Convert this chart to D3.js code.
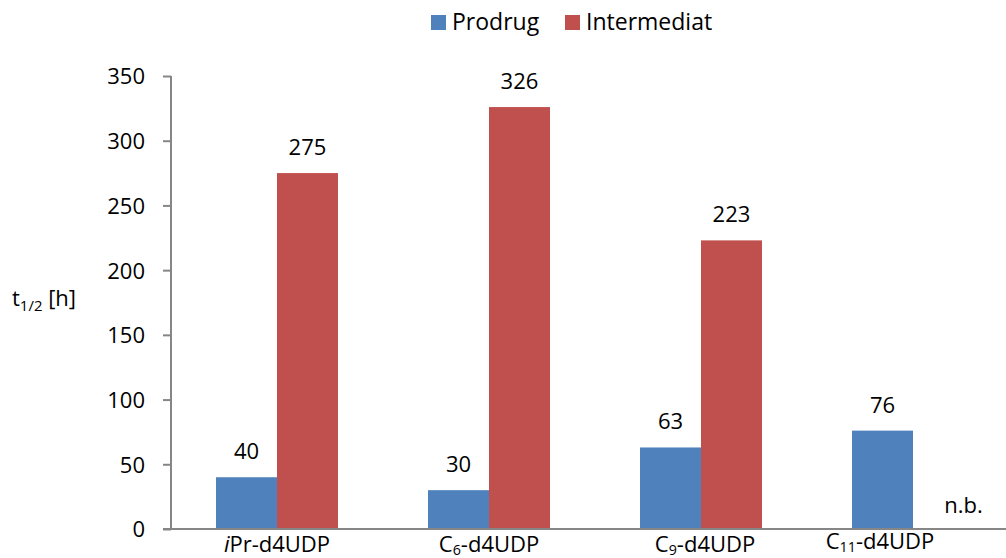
<!DOCTYPE html>
<html>
<head>
<meta charset="utf-8">
<script src="https://cdn.jsdelivr.net/npm/d3@7"></script>
<style>
  html, body { margin: 0; padding: 0; background: #fff; overflow: hidden; }
  svg { display: block; font-family: "Open Sans", sans-serif; }
</style>
</head>
<body>
<svg id="chart" width="1006" height="558"></svg>
<script>
// Half-lives of the prodrugs and their intermediates
const categories = ["iPr-d4UDP", "C6-d4UDP", "C9-d4UDP", "C11-d4UDP"];
const seriesNames = ["Prodrug", "Intermediat"];
const prodrug = [40, 30, 63, 76];
const intermediat = [275, 326, 223, null];   // null = not determined
const missingLabel = "n.b.";
const yTicks = [0, 50, 100, 150, 200, 250, 300, 350];
const yTitle = { main: "t", sub: "1/2", tail: " [h]" };

const colors = { Prodrug: "#4F81BD", Intermediat: "#C0504D" };
const axisColor = "#868686";
const fontSize = 22;

const svg = d3.select("#chart");
const margin = { left: 171, top: 76, bottom: 529, right: 1019 };

const y = d3.scaleLinear().domain([0, 350]).range([margin.bottom, margin.top]);
const x0 = d3.scaleBand().domain(categories).range([margin.left, margin.right]).padding(0);
const x1 = d3.scaleBand().domain(seriesNames).range([0, x0.bandwidth()])
  .paddingInner(0).paddingOuter(0.738);

const rows = categories.map((c, i) => ({
  cat: c,
  values: [
    { key: "Prodrug", value: prodrug[i] },
    { key: "Intermediat", value: intermediat[i] }
  ]
}));

// Bars
const groups = svg.append("g").selectAll("g").data(rows).join("g")
  .attr("transform", d => `translate(${x0(d.cat)},0)`);

groups.selectAll("rect").data(d => d.values.filter(v => v.value != null)).join("rect")
  .attr("x", d => x1(d.key))
  .attr("y", d => y(d.value))
  .attr("width", x1.bandwidth())
  .attr("height", d => y(0) - y(d.value))
  .attr("fill", d => colors[d.key]);

// Value labels
groups.selectAll("text.val").data(d => d.values).join("text")
  .attr("class", "val")
  .attr("font-size", fontSize)
  .attr("fill", "#000")
  .attr("text-anchor", "middle")
  .attr("x", d => x1(d.key) + x1.bandwidth() / 2 + (d.value == null ? 20 : 0))
  .attr("y", d => d.value == null ? y(0) - 16 : y(d.value) - 18)
  .text(d => d.value == null ? missingLabel : d.value);

// Y axis
const yAxis = d3.axisLeft(y).tickValues(yTicks).tickSize(8).tickPadding(18);
const yg = svg.append("g").attr("transform", `translate(${margin.left},0)`).call(yAxis);
yg.select(".domain").attr("stroke", axisColor).attr("stroke-width", 2)
  .attr("d", `M0,${margin.top}V${y(0)}`);
yg.selectAll(".tick line").attr("stroke", axisColor).attr("stroke-width", 2);
yg.selectAll(".tick text").attr("font-size", fontSize).attr("fill", "#000")
  .attr("font-family", "Open Sans, sans-serif").attr("dy", "0.36em");

// X axis baseline
svg.append("line")
  .attr("x1", margin.left - 8).attr("x2", margin.right)
  .attr("y1", y(0)).attr("y2", y(0))
  .attr("stroke", axisColor).attr("stroke-width", 2);

// Category labels with italic prefix / subscript chain lengths;
// the last one is pulled left so it stays inside the frame
const labelNudge = [{ dx: 0, dy: 0 }, { dx: 0, dy: 0 }, { dx: 4, dy: 0 }, { dx: -33, dy: -3 }];
const xl = svg.append("g").selectAll("text").data(categories).join("text")
  .attr("font-size", fontSize)
  .attr("fill", "#000")
  .attr("text-anchor", "middle")
  .attr("x", (d, i) => x0(d) + x0.bandwidth() / 2 + labelNudge[i].dx)
  .attr("y", (d, i) => 552 + labelNudge[i].dy);
xl.each(function (d) {
  const t = d3.select(this);
  const m = d.match(/^C(\d+)(.*)$/);
  if (m) {
    t.append("tspan").text("C");
    t.append("tspan").attr("font-size", fontSize * 0.65).attr("dy", 3).text(m[1]);
    t.append("tspan").attr("dy", -3).text(m[2]);
  } else if (d.startsWith("i")) {
    t.append("tspan").attr("font-style", "italic").text("i");
    t.append("tspan").text(d.slice(1));
  } else {
    t.text(d);
  }
});

// Y axis title
const yt = svg.append("text").attr("font-size", fontSize).attr("fill", "#000")
  .attr("x", 12).attr("y", 306);
yt.append("tspan").text(yTitle.main);
yt.append("tspan").attr("font-size", fontSize * 0.68).attr("dy", 5).text(yTitle.sub);
yt.append("tspan").attr("dy", -5).text(yTitle.tail);

// Legend
const legend = svg.append("g");
const legendX = [431, 565];
seriesNames.forEach((s, i) => {
  legend.append("rect").attr("x", legendX[i]).attr("y", 15)
    .attr("width", 15).attr("height", 15).attr("fill", colors[s]);
  legend.append("text").attr("x", legendX[i] + 21).attr("y", 30)
    .attr("font-size", 23).attr("fill", "#000").text(s);
});
</script>
</body>
</html>
